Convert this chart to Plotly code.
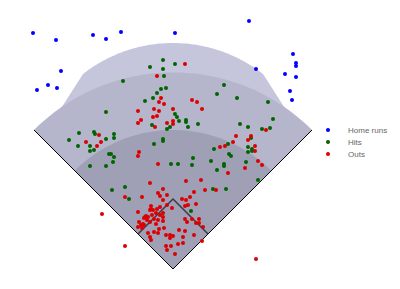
import numpy as np
import plotly.graph_objects as go

# ---- data: batted-ball locations, feet-like units, home plate at (0,0), y toward center field
hr_x = [-140, -117, -80, -67, -52, 2, 76, -112, -125, -116, -136, 120, 123, 123, 83, 112, 123, 117, 119]
hr_y = [236, 229, 234, 230, 237, 236, 248, 198, 184, 181, 179, 215, 206, 203, 200, 195, 192, 178, 169]

hit_x = [-10, 2, -23, -10, -50, -9, 51, -7, -12, -16, 44, 64, -20, -28, 95, -67, 2, 4, 6, 13,
         13, 15, 25, -21, -3, -6, 100, 67, 75, 89, 97, -94, -79, -78, -59, -59, -67, -104, -10, -10,
         78, -19, 55, -95, -83, -79, -83, -64, -62, -59, -60, -83, -67, -2, 5, 19, 20, 41, 38, 44,
         51, 51, 56, 58, 73, 75, 75, 79, 79, 85, 40, 53, -61, -48, -44, -28, 18]
hit_y = [209, 205, 202, 200, 188, 193, 184, 181, 180, 176, 175, 171, 171, 168, 167, 157, 155, 152, 148, 149,
         147, 142, 145, 144, 142, 140, 150, 145, 142, 140, 141, 136, 137, 135, 135, 131, 130, 129, 130, 128,
         131, 125, 125, 123, 123, 119, 118, 115, 115, 112, 107, 103, 103, 105, 105, 104, 111, 120, 108, 99,
         105, 103, 115, 113, 107, 122, 117, 120, 118, 89, 80, 80, 79, 82, 70, 52, 58]

out_x = [12, -16, -12, -14, -9, -35, -19, -14, 0, -16, -20, -32, -35, -6, 0, -18, 0, -74, 19, 24,
         29, 93, 63, 78, -87, -76, -72, -34, -35, -15, -23, -10, -15, -13, -6, -10, -48, -31, -22, -13,
         -22, -16, 60, 75, 82, 82, 47, 52, 85, 89, 72, 55, 13, 28, 32, 43, 21, 17, 9, 13,
         23, 12, 30, 29, 83, -71, -48,
         -35, -34, -35, -32, -30, -29, -31, -26, -27, -23, -20, -17, -10, -13, -10, -21, -19, -15, -23, -25,
         -19, -23, -22, -15, -14, -9, -10, -17, -7, -3, 0, -3, -7, -6, -2, 5, 10, 2, 21, 26,
         23, 19, 12, 15, 26, -6, -1, 10, 12, 6, 14, -29, -25]
out_y = [205, 193, 171, 167, 165, 158, 160, 158, 160, 153, 152, 149, 146, 146, 148, 142, 145, 134, 169, 167,
         160, 139, 133, 133, 127, 123, 127, 117, 113, 105, 86, 80, 76, 73, 74, 69, 72, 72, 63, 62,
         60, 60, 127, 129, 123, 118, 122, 123, 108, 104, 101, 96, 88, 89, 79, 79, 77, 72, 70, 69,
         65, 63, 42, 28, 10, 55, 23,
         57, 47, 42, 44, 45, 44, 41, 49, 53, 59, 59, 56, 56, 54, 52, 54, 50, 49, 47, 36,
         37, 32, 29, 36, 40, 41, 48, 45, 34, 34, 33, 31, 23, 19, 23, 25, 26, 15, 34, 50,
         46, 50, 50, 64, 46, 64, 61, 32, 38, 39, 47, 51, 52]

series_names = ["Home runs", "Hits", "Outs"]
series_colors = ["#0000ff", "#006400", "#dd0000"]

# ---- field geometry (decoration)
FOUL = 139.0                       # foul pole at (+-FOUL, FOUL)
R_MID = FOUL * np.sqrt(2)          # outfield grass arc radius
R_IN = 139.0                       # infield dirt arc radius
BASE = 35.0                        # half diagonal of the diamond
WALL_BASE = 131.0                  # where the wall meets the foul line
WALL_CORNER = (90.0, 195.0)
WALL_TOP = 226.0


def path_from(pts):
    return "M " + " L ".join(f"{x:.2f},{y:.2f}" for x, y in pts) + " Z"


def arc(cx, cy, r, a0, a1, n=80):
    t = np.linspace(a0, a1, n)
    return list(zip(cx + r * np.cos(t), cy + r * np.sin(t)))


# outer wall region
cxw, cyw = 0.0, 0.0
wx, wy = WALL_CORNER
yc = ((WALL_TOP ** 2 - wy ** 2) - wx ** 2) / (2 * (WALL_TOP - wy))
rw = WALL_TOP - yc
a_left = np.arctan2(wy - yc, -wx)
a_right = np.arctan2(wy - yc, wx)
outer_pts = [(0, 0), (-WALL_BASE, WALL_BASE), (-wx, wy)] + arc(0, yc, rw, a_left, a_right) + [(wx, wy), (WALL_BASE, WALL_BASE)]

# light grey wedges between foul pole and wall
def edge_x(y):
    return -WALL_BASE + (y - WALL_BASE) * (WALL_BASE - wx) / (wy - WALL_BASE)

gy = 160.0
gray_left = [(-FOUL, FOUL), (edge_x(gy), gy), (-WALL_BASE, WALL_BASE)]
gray_right = [(-x, y) for x, y in gray_left]

mid_pts = [(0, 0)] + arc(0, 0, R_MID, 3 * np.pi / 4, np.pi / 4)
in_pts = [(0, 0)] + arc(0, 0, R_IN, 3 * np.pi / 4, np.pi / 4)

shapes = []
for pts, col in [(gray_left, "#ebebeb"), (gray_right, "#ebebeb"), (outer_pts, "#c5c5dc"),
                 (mid_pts, "#b5b5cc"), (in_pts, "#9f9fb5")]:
    shapes.append(dict(type="path", path=path_from(pts), fillcolor=col, line=dict(width=0),
                       layer="below", xref="x", yref="y"))

shapes.append(dict(type="path", path=f"M {-FOUL},{FOUL} L 0,0 L {FOUL},{FOUL}",
                   line=dict(color="#000000", width=1), layer="below"))
shapes.append(dict(type="path", path=f"M {-BASE},{BASE} L 0,{2*BASE} L {BASE},{BASE}",
                   line=dict(color="#3a3a48", width=1.5), layer="below"))

fig = go.Figure()
data = [(hr_x, hr_y), (hit_x, hit_y), (out_x, out_y)]
legend_ids = ["legend", "legend2", "legend3"]
for (xs, ys), name, col, lid in zip(data, series_names, series_colors, legend_ids):
    fig.add_trace(go.Scatter(x=xs, y=ys, mode="markers", name=name, legend=lid,
                             marker=dict(color=col, size=4, line=dict(width=0))))

H = 289.0
legend_rows = [130, 142, 154]
leg_common = dict(x=308 / 400, xanchor="left", yanchor="middle", bgcolor="rgba(0,0,0,0)",
                  borderwidth=0, font=dict(family="Liberation Sans, Arial", size=8, color="#666666"),
                  itemwidth=30)
fig.update_layout(
    width=400, height=289,
    margin=dict(l=0, r=0, t=0, b=0),
    paper_bgcolor="white", plot_bgcolor="white",
    xaxis=dict(range=[-173, 227], visible=False, fixedrange=True),
    yaxis=dict(range=[-20, 269], visible=False, fixedrange=True),
    shapes=shapes,
    showlegend=True,
    legend=dict(y=1 - legend_rows[0] / H, **leg_common),
    legend2=dict(y=1 - legend_rows[1] / H, **leg_common),
    legend3=dict(y=1 - legend_rows[2] / H, **leg_common),
)

fig.write_html("out.html")
